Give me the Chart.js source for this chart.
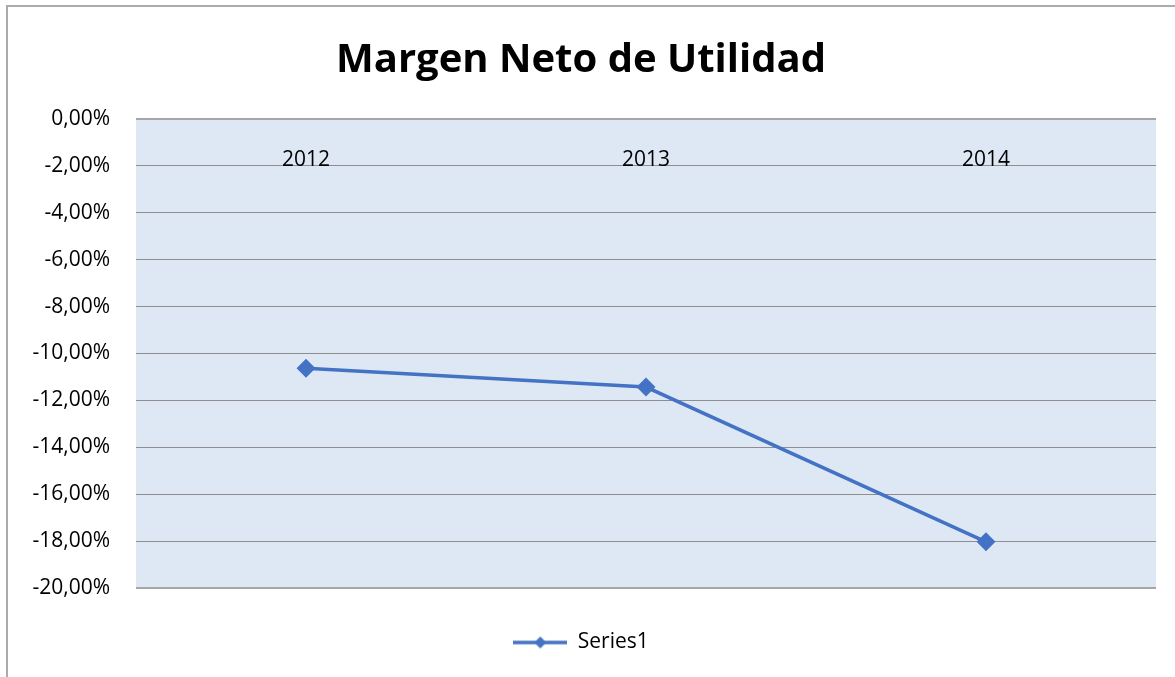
<!DOCTYPE html>
<html>
<head>
<meta charset="utf-8">
<script src="https://cdn.jsdelivr.net/npm/chart.js@4.4.1/dist/chart.umd.min.js"></script>
<style>
  html, body { margin: 0; padding: 0; background: #fff; }
  #wrap { width: 1175px; height: 677px; position: relative; }
</style>
</head>
<body>
<div id="wrap"><canvas id="chart"></canvas></div>
<script>
// chart data
const years = ['2012', '2013', '2014'];
const margenNeto = [-10.63, -11.43, -18.03];
const seriesName = 'Series1';
const chartTitle = 'Margen Neto de Utilidad';

const lineColor = '#4472C4';
const fontFamily = "'Open Sans', 'Liberation Sans', sans-serif";

// little picture for the legend: line with a diamond in the middle
function legendMarker() {
    const c = document.createElement('canvas');
    c.width = 54;
    c.height = 14;
    const ctx = c.getContext('2d');
    ctx.strokeStyle = lineColor;
    ctx.lineWidth = 3.5;
    ctx.beginPath();
    ctx.moveTo(0, 7);
    ctx.lineTo(54, 7);
    ctx.stroke();
    ctx.fillStyle = lineColor;
    ctx.beginPath();
    ctx.moveTo(27, 1);
    ctx.lineTo(33, 7);
    ctx.lineTo(27, 13);
    ctx.lineTo(21, 7);
    ctx.closePath();
    ctx.fill();
    return c;
}

const plotBackground = {
    id: 'plotBackground',
    beforeDraw(chart) {
        const {ctx, chartArea} = chart;
        ctx.save();
        // outer chart border
        ctx.strokeStyle = '#ABABAB';
        ctx.lineWidth = 2;
        ctx.beginPath();
        ctx.moveTo(7, chart.height + 5);
        ctx.lineTo(7, 6);
        ctx.lineTo(chart.width + 5, 6);
        ctx.stroke();
        // plot area fill
        ctx.fillStyle = '#DEE8F4';
        ctx.fillRect(chartArea.left, chartArea.top, chartArea.right - chartArea.left, chartArea.bottom - chartArea.top);
        ctx.restore();
    }
};

const marker = legendMarker();

new Chart(document.getElementById('chart'), {
    type: 'line',
    data: {
        labels: years,
        datasets: [{
            label: seriesName,
            data: margenNeto,
            borderColor: lineColor,
            backgroundColor: lineColor,
            borderWidth: 3.5,
            pointStyle: 'rectRot',
            pointRadius: 7,
            pointHoverRadius: 7,
            tension: 0
        }]
    },
    options: {
        responsive: true,
        maintainAspectRatio: false,
        animation: false,
        layout: { padding: { left: 6, right: 19, top: 0, bottom: 14 } },
        scales: {
            x: {
                position: { y: 0 },
                offset: true,
                grid: { display: false, offset: true },
                border: { display: false },
                ticks: {
                    color: '#000',
                    padding: 20,
                    font: { family: fontFamily, size: 21 }
                }
            },
            y: {
                min: -20,
                max: 0,
                afterFit(scale) { scale.width = 130; },
                border: { display: false },
                grid: {
                    drawTicks: false,
                    color: (ctx) => (ctx.tick && (ctx.tick.value === 0 || ctx.tick.value === -20)) ? '#A6A6A6' : '#8E8E8E',
                    lineWidth: (ctx) => (ctx.tick && (ctx.tick.value === 0 || ctx.tick.value === -20)) ? 2 : 1
                },
                ticks: {
                    stepSize: 2,
                    padding: 26,
                    color: '#000',
                    font: { family: fontFamily, size: 21 },
                    callback: (v) => v.toFixed(2).replace('.', ',') + '%'
                }
            }
        },
        plugins: {
            title: {
                display: true,
                text: chartTitle,
                color: '#000',
                font: { family: fontFamily, size: 40, weight: 'bold' },
                padding: { top: 37, bottom: 34 }
            },
            legend: {
                position: 'bottom',
                title: { display: true, text: ' ', font: { size: 10 }, padding: { top: 22, bottom: 0 } },
                labels: {
                    usePointStyle: true,
                    pointStyleWidth: 54,
                    padding: 10,
                    color: '#000',
                    font: { family: fontFamily, size: 21 },
                    generateLabels: (chart) => [{
                        text: seriesName,
                        pointStyle: marker,
                        fillStyle: lineColor,
                        strokeStyle: lineColor,
                        fontColor: '#000',
                        lineWidth: 0,
                        datasetIndex: 0
                    }]
                }
            },
            tooltip: { enabled: false }
        }
    },
    plugins: [plotBackground]
});
</script>
</body>
</html>
